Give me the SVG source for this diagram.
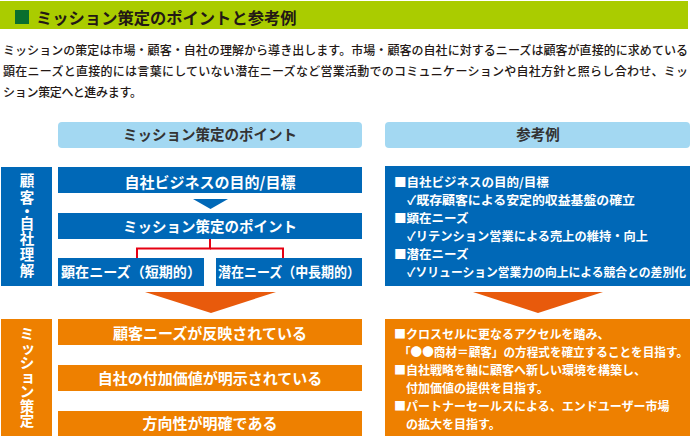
<svg xmlns="http://www.w3.org/2000/svg" width="691" height="436" viewBox="0 0 691 436">
<style>
text{font-family:"Noto Sans CJK JP","Noto Sans CJK SC",sans-serif;font-weight:bold}
.body{font-weight:500;font-size:12px;fill:#231815}
.hd{font-size:14.5px;fill:#333333;text-anchor:middle}
.w{fill:#ffffff}
.c{text-anchor:middle}
.blue{fill:#0068b7}
.org{fill:#ee8000}
.lb{fill:#a3d8f2}
.vt{font-size:14.5px;fill:#ffffff;text-anchor:middle}
.lst{font-size:12.5px;fill:#ffffff}
.lso{font-size:12px;fill:#ffffff}
</style>
<g id="header">
<rect x="0" y="1" width="688" height="28" fill="#aacc00"/>
<rect x="15" y="10" width="14" height="14" fill="#0a6e2e"/>
<text x="36" y="23.5" font-size="16.3" fill="#231815">ミッション策定のポイントと参考例</text>
</g>
<g id="intro">
<text class="body" x="3" y="54.5" textLength="685" lengthAdjust="spacing">ミッションの策定は市場・顧客・自社の理解から導き出します。市場・顧客の自社に対するニーズは顧客が直接的に求めている</text>
<text class="body" x="3" y="76" textLength="685" lengthAdjust="spacing">顕在ニーズと直接的には言葉にしていない潜在ニーズなど営業活動でのコミュニケーションや自社方針と照らし合わせ、ミッ</text>
<text class="body" x="3" y="97" textLength="139" lengthAdjust="spacing">ション策定へと進みます。</text>
</g>
<g id="head-left">
<rect class="lb" x="58" y="122" width="304" height="26" rx="4"/>
<text class="hd" x="210" y="140">ミッション策定のポイント</text>
</g>
<g id="head-right">
<rect class="lb" x="385" y="122" width="305" height="26" rx="4"/>
<text class="hd" x="538" y="140">参考例</text>
</g>
<g id="label-understanding">
<rect class="blue" x="1" y="167" width="51" height="119"/>
<text class="vt">
<tspan x="27" y="186">顧</tspan><tspan x="27" y="203">客</tspan><tspan x="27" y="217">・</tspan><tspan x="27" y="229">自</tspan><tspan x="27" y="244">社</tspan><tspan x="27" y="260">理</tspan><tspan x="27" y="276">解</tspan>
</text>
</g>
<g id="box-purpose">
<rect class="blue" x="58" y="167" width="304" height="26"/>
<text class="w c" x="210" y="187.5" font-size="15">自社ビジネスの目的/目標</text>
</g>
<g id="box-point">
<rect class="blue" x="58" y="213" width="304" height="26"/>
<text class="w c" x="210" y="232" font-size="14.5">ミッション策定のポイント</text>
</g>
<g id="box-explicit">
<rect class="blue" x="58" y="258" width="146" height="28"/>
<text class="w" x="61" y="277" font-size="14" textLength="140" lengthAdjust="spacingAndGlyphs">顕在ニーズ（短期的）</text>
</g>
<g id="box-latent">
<rect class="blue" x="216" y="258" width="146" height="28"/>
<text class="w" x="218" y="277" font-size="14" textLength="142" lengthAdjust="spacingAndGlyphs">潜在ニーズ（中長期的）</text>
</g>
<g id="example-blue">
<rect class="blue" x="385" y="166" width="305" height="120"/>
<text class="lst" x="394" y="186.5">■自社ビジネスの目的/目標</text>
<text class="lst" x="407" y="204.5" textLength="228" lengthAdjust="spacingAndGlyphs">✓既存顧客による安定的収益基盤の確立</text>
<text class="lst" x="394" y="222.5">■顕在ニーズ</text>
<text class="lst" x="407" y="240.5" textLength="241" lengthAdjust="spacingAndGlyphs">✓リテンション営業による売上の維持・向上</text>
<text class="lst" x="394" y="258.5">■潜在ニーズ</text>
<text class="lst" x="407" y="276.5" textLength="279" lengthAdjust="spacingAndGlyphs">✓ソリューション営業力の向上による競合との差別化</text>
</g>
<g id="label-mission">
<rect class="org" x="1" y="319" width="51" height="117"/>
<text class="vt">
<tspan x="27" y="339">ミ</tspan><tspan x="28" y="353">ッ</tspan><tspan x="27" y="368">シ</tspan><tspan x="28" y="382">ョ</tspan><tspan x="27" y="397">ン</tspan><tspan x="27" y="412">策</tspan><tspan x="27" y="426">定</tspan>
</text>
</g>
<g id="box-needs">
<rect class="org" x="58" y="319" width="304" height="26"/>
<text class="w c" x="210" y="338.5" font-size="15">顧客ニーズが反映されている</text>
</g>
<g id="box-value">
<rect class="org" x="58" y="365" width="304" height="26"/>
<text class="w c" x="210" y="384" font-size="15">自社の付加価値が明示されている</text>
</g>
<g id="box-direction">
<rect class="org" x="58" y="411" width="304" height="25"/>
<text class="w c" x="210" y="429" font-size="15">方向性が明確である</text>
</g>
<g id="example-orange">
<rect class="org" x="385" y="319" width="305" height="117"/>
<text class="lso" x="394" y="338.5">■クロスセルに更なるアクセルを踏み、</text>
<text class="lso" x="399" y="356.5" textLength="289" lengthAdjust="spacingAndGlyphs">「●●商材＝顧客」の方程式を確立することを目指す。</text>
<text class="lso" x="394" y="374.5">■自社戦略を軸に顧客へ新しい環境を構築し、</text>
<text class="lso" x="406" y="392.5">付加価値の提供を目指す。</text>
<text class="lso" x="394" y="410.5">■パートナーセールスによる、エンドユーザー市場</text>
<text class="lso" x="406" y="428.5">の拡大を目指す。</text>
</g>
<g id="connectors">
<polygon points="193,199 228,199 210.5,209" fill="#0068b7"/>
<polyline points="210,239 210,248.5 137,248.5 137,258" fill="none" stroke="#e60012" stroke-width="2"/>
<polyline points="210,248.5 283,248.5 283,258" fill="none" stroke="#e60012" stroke-width="2"/>
<polygon points="145,292 276,292 211,313" fill="#e85a0c"/>
<polygon points="473,292 603,292 538,313" fill="#e85a0c"/>
</g>
</svg>
